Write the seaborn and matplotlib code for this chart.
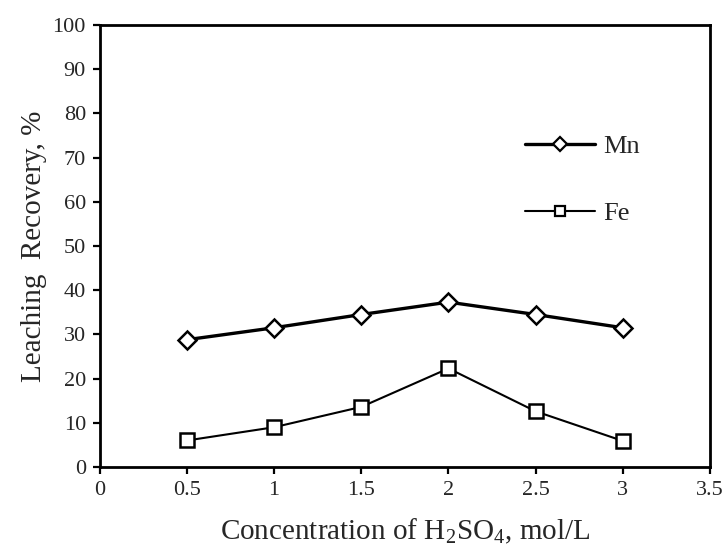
import seaborn as sns
import matplotlib.pyplot as plt
import pandas as pd
from matplotlib.lines import Line2D

# H2SO4 concentration (mol/L) and leaching recovery (%)
conc = [0.5, 1.0, 1.5, 2.0, 2.5, 3.0]
mn_recovery = [28.8, 31.5, 34.5, 37.3, 34.5, 31.5]
fe_recovery = [6.0, 9.0, 13.6, 22.3, 12.6, 5.9]

df = pd.DataFrame({
    "Concentration": conc * 2,
    "Recovery": mn_recovery + fe_recovery,
    "Metal": ["Mn"] * len(conc) + ["Fe"] * len(conc),
})

sns.set_theme(style="ticks")
plt.rcParams["font.family"] = ["Liberation Serif", "DejaVu Serif"]
plt.rcParams["mathtext.fontset"] = "custom"
plt.rcParams["mathtext.rm"] = "Liberation Serif"

fig, ax = plt.subplots(figsize=(7.23, 5.54), dpi=100)
sns.lineplot(data=df, x="Concentration", y="Recovery", style="Metal",
             markers={"Mn": "D", "Fe": "s"}, dashes=False, color="black",
             markersize=9.5, markerfacecolor="white", markeredgecolor="black",
             markeredgewidth=1.8, ax=ax, legend=False)
for line, lw in zip(ax.lines, [2.4, 1.5]):
    line.set_linewidth(lw)

ax.set_xlim(0, 3.5)
ax.set_ylim(0, 100)
ax.set_xticks([0, 0.5, 1, 1.5, 2, 2.5, 3, 3.5])
ax.set_xticklabels(["0", "0.5", "1", "1.5", "2", "2.5", "3", "3.5"])
ax.set_yticks(range(0, 101, 10))
ax.tick_params(labelsize=16, width=1.6, length=5, color="black", pad=5)
for s in ax.spines.values():
    s.set_linewidth(2.0)
    s.set_color("black")

ax.set_xlabel("Concentration of H$_2$SO$_4$, mol/L", fontsize=21, labelpad=12)
ax.set_ylabel("Leaching  Recovery, %", fontsize=21, labelpad=4)

handles = [
    Line2D([], [], color="black", lw=2.4, marker="D", markersize=7,
           markerfacecolor="white", markeredgewidth=1.6),
    Line2D([], [], color="black", lw=1.5, marker="s", markersize=7,
           markerfacecolor="white", markeredgewidth=1.6),
]
ax.legend(handles, ["Mn", "Fe"], loc="upper left", bbox_to_anchor=(0.68, 0.775),
          frameon=False, fontsize=19, handlelength=2.65, labelspacing=1.63,
          handletextpad=0.3, borderaxespad=0)

fig.subplots_adjust(left=0.138, right=0.982, top=0.955, bottom=0.157)
fig.savefig("out.png", dpi=100)
